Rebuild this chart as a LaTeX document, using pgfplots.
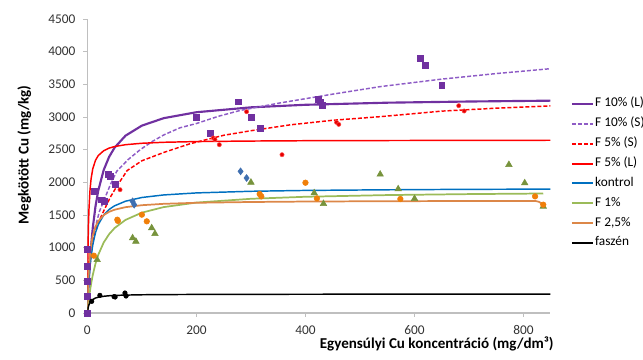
\documentclass[border=0pt]{standalone}
\usepackage{fontspec}
\setmainfont{Carlito}
\usepackage{pgfplots}
\pgfplotsset{compat=1.18}
\definecolor{cpurple}{HTML}{7030A0}
\definecolor{cpurpled}{HTML}{8E5CC6}
\definecolor{cred}{HTML}{FF0000}
\definecolor{cblue}{HTML}{0070C0}
\definecolor{cdiam}{HTML}{3F6FB0}
\definecolor{cgreen}{HTML}{9BBB59}
\definecolor{ctri}{HTML}{77933C}
\definecolor{corange}{HTML}{DC8748}
\definecolor{cmorange}{HTML}{F07F09}
\definecolor{cgrey}{HTML}{BFBFBF}
\begin{document}
\begin{tikzpicture}[x=1pt,y=1pt]
\useasboundingbox (0,0) rectangle (482.25,270);
\begin{axis}[
  at={(65.5pt,35.25pt)}, anchor=south west,
  scale only axis, width=347.25pt, height=220.5pt,
  xmin=0, xmax=849, ymin=0, ymax=4500,
  axis x line*=bottom, axis y line*=left,
  axis line style={-, draw=cgrey, line width=0.8pt},
  xtick={0,200,400,600,800}, ytick={0,500,...,4500},
  tick align=outside, major tick length=3pt,
  tick style={cgrey, line width=0.6pt},
  tick label style={font=\fontsize{10}{12}\selectfont, text=black!80},
  /pgf/number format/assume math mode=true,
  /pgf/number format/1000 sep={},
  xticklabel style={yshift=-3pt},
  yticklabel style={xshift=-2.5pt},
  xlabel={\textbf{Egyensúlyi Cu koncentráció (mg/dm³)}},
  ylabel={\textbf{Megkötött Cu (mg/kg)}},
  x label style={at={(axis description cs:0.7546,-0.104)}, anchor=center, font=\fontsize{11.3}{13}\selectfont},
  y label style={at={(axis description cs:-0.136,0.538)}, anchor=center, font=\fontsize{11.3}{13}\selectfont},
  legend style={at={(axis description cs:1.035,0.745)}, anchor=north west, draw=none, fill=none,
    font=\fontsize{10}{12}\selectfont, row sep=4.4pt,
    nodes={inner sep=1pt, text height=6.5pt, text depth=2pt}},
  legend cell align=left,
  legend image code/.code={\draw[#1, line width=1.5pt] (0pt,0pt) -- (15.75pt,0pt);},
  clip=true,
]
% ---- fitted curves (legend order) ----
\addplot[cpurple, line width=1.6pt] coordinates {
(0,0)(1,202)(2,381)(3,541)(5,813)(7,1036)(10,1305)(15,1635)(20,1872)(30,2188)(40,2391)(50,2531)(70,2714)(100,2868)(140,2982)(200,3073)(300,3148)(400,3187)(550,3219)(700,3237)(850,3250)};
\addlegendentry{F 10\% (L)}
\addplot[cpurpled, line width=1.1pt, dash pattern=on 3pt off 1.5pt] coordinates {
(0,0)(1,300)(3,560)(6,815)(10,1080)(15,1326)(22,1550)(31,1734)(42,1960)(54,2170)(75,2350)(97,2500)(120,2630)(141,2729)(170,2835)(200,2900)(240,3010)(280,3100)(353,3215)(450,3350)(537,3465)(650,3580)(750,3665)(850,3740)};
\addlegendentry{F 10\% (S)}
\addplot[cred, line width=1.1pt, dash pattern=on 3pt off 1.5pt] coordinates {
(0,0)(1,400)(3,800)(7,1000)(12,1170)(20,1380)(31,1580)(42,1770)(54,1940)(73,2180)(100,2330)(141,2460)(188,2590)(250,2720)(300,2790)(372,2880)(450,2950)(537,3005)(650,3090)(750,3135)(850,3170)};
\addlegendentry{F 5\% (S)}
\addplot[cred, line width=1.1pt] coordinates {
(0,0)(0.5,530)(1,883)(2,1325)(3,1590)(5,1893)(7,2061)(10,2208)(15,2338)(20,2409)(30,2484)(40,2524)(50,2548)(70,2576)(100,2598)(140,2613)(200,2624)(300,2632)(400,2637)(550,2640)(700,2642)(850,2644)};
\addlegendentry{F 5\% (L)}
\addplot[cblue, line width=1.1pt] coordinates {
(0,0)(1,205)(2,371)(3,507)(5,718)(7,874)(10,1045)(15,1231)(20,1352)(30,1499)(40,1585)(50,1641)(70,1711)(100,1768)(140,1807)(200,1838)(300,1863)(400,1876)(550,1886)(700,1893)(850,1896)};
\addlegendentry{kontrol}
\addplot[cgreen, line width=1.3pt] coordinates {
(0,0)(1,81)(2,155)(3,223)(5,345)(7,450)(10,583)(15,757)(20,890)(30,1079)(40,1207)(50,1300)(70,1425)(100,1536)(140,1621)(200,1690)(300,1748)(400,1779)(550,1805)(700,1820)(836,1829)};
\addlegendentry{F 1\%}
\addplot[corange, line width=1.3pt] coordinates {
(0,0)(1,311)(2,527)(3,686)(5,904)(7,1046)(10,1186)(15,1324)(20,1406)(30,1498)(40,1549)(50,1581)(70,1620)(100,1650)(140,1671)(200,1687)(300,1699)(400,1706)(550,1711)(700,1714)(822,1714)(828,1702)(832,1682)(835,1655)(837,1630)};
\addlegendentry{F 2,5\%}
\addplot[black, line width=1.1pt] coordinates {
(0,0)(1,58)(2,97)(3,124)(5,161)(7,185)(10,207)(15,229)(20,242)(30,256)(40,264)(50,269)(70,274)(100,279)(140,282)(200,284)(300,286)(400,287)(550,288)(700,288)(850,289)};
\addlegendentry{faszén}
% ---- measured points ----
\addplot[forget plot, only marks, mark=square*, mark size=2.2pt, cpurple] coordinates {
(0,0)(0,254)(0,484)(0,713)(0,980)(12,1862)(38,2117)(42,2091)(52,1964)(26,1734)(31,1708)(200,2994)(225,2745)(276,3234)(300,2994)(317,2826)(423,3275)(427,3234)(431,3183)(610,3898)(620,3796)(650,3490)};
\addplot[forget plot, only marks, mark=*, mark size=1.6pt, cred, mark options={draw=cred!70!white, fill=cred!90!black}] coordinates {
(60,1887)(231,2679)(234,2655)(242,2576)(292,3081)(357,2423)(457,2918)(461,2887)(681,3173)(691,3092)};
\addplot[forget plot, only marks, mark=diamond*, mark size=2.6pt, cdiam] coordinates {
(83,1708)(86,1658)(281,2168)(292,2066)};
\addplot[forget plot, only marks, mark=triangle*, mark size=2.8pt, ctri] coordinates {
(18,815)(83,1148)(89,1096)(118,1301)(124,1214)(300,1999)(416,1837)(433,1673)(537,2122)(570,1898)(600,1750)(773,2270)(802,1990)(836,1632)};
\addplot[forget plot, only marks, mark=*, mark size=2.1pt, cmorange] coordinates {
(12,877)(55,1428)(56,1410)(100,1505)(109,1403)(316,1821)(319,1785)(400,1994)(421,1754)(574,1745)(821,1785)(836,1658)};
\addplot[forget plot, only marks, mark=*, mark size=1.7pt, black] coordinates {
(8,178)(23,270)(49,250)(51,245)(69,306)(71,260)};
\end{axis}
\end{tikzpicture}
\end{document}
